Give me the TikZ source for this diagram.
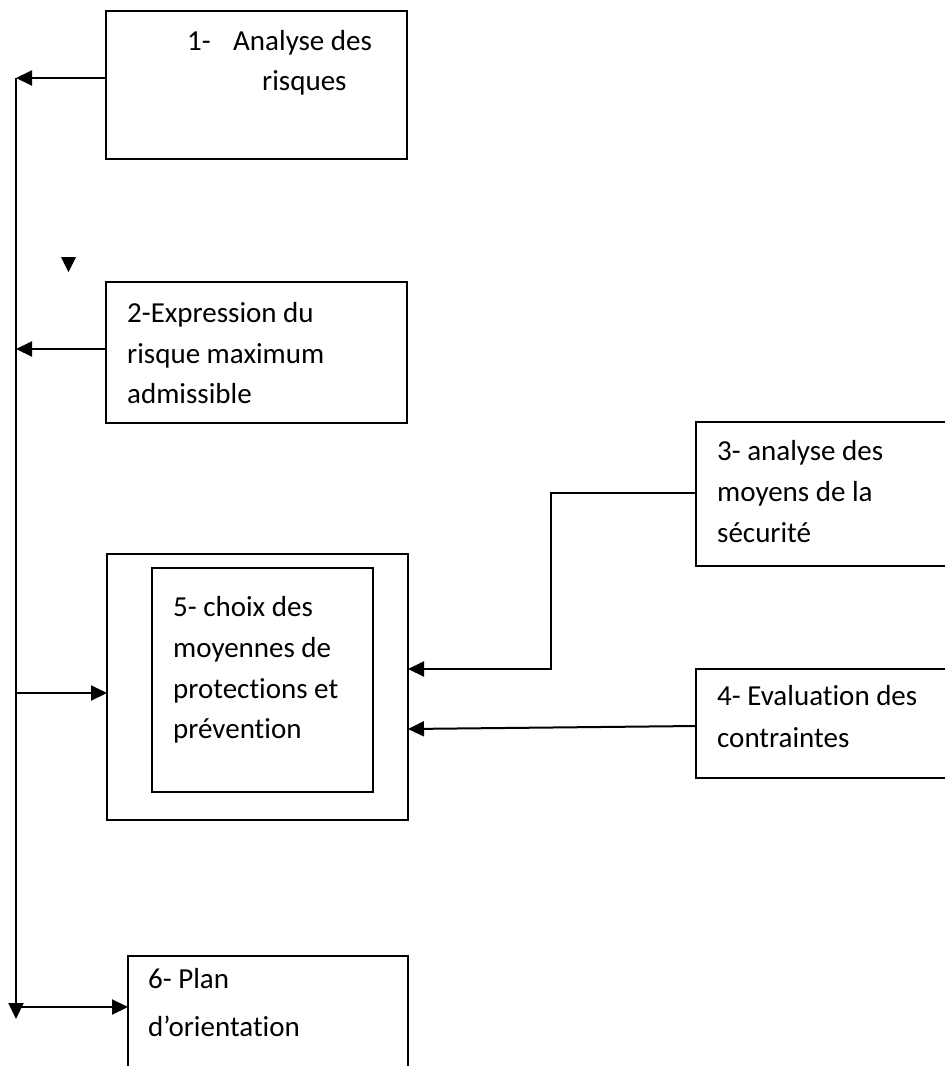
\documentclass[tikz,border=0pt]{standalone}
\usepackage{fontspec}
\setmainfont{Carlito}[Ligatures={NoCommon}]
\usetikzlibrary{arrows.meta}
\begin{document}
\begin{tikzpicture}[x=1pt,y=-1pt,
  box/.style={draw, line width=2pt, rectangle, inner sep=0pt, outer sep=0pt, anchor=north west},
  txt/.style={anchor=base west, inner sep=0pt, font=\fontsize{29}{41}\selectfont},
  arr/.style={line width=2pt, -{Triangle[length=16pt,width=15pt]}}]
\clip (0,0) rectangle (945,1066);
% boxes
\node[box, minimum width=301pt, minimum height=148pt] (b1) at (106,11) {};
\node[box, minimum width=301pt, minimum height=141pt] (b2) at (106,282) {};
\node[box, minimum width=260pt, minimum height=144pt] (b3) at (696,422) {};
\node[box, minimum width=260pt, minimum height=109pt] (b4) at (696,669) {};
\node[box, minimum width=301pt, minimum height=266pt] (b5) at (107,554) {};
\node[box, minimum width=221pt, minimum height=224pt] (b5i) at (152,568) {};
\node[box, minimum width=280pt, minimum height=130pt] (b6) at (128,956) {};
% texts
\node[txt] (t1a) at (187,50) {1-};
\node[txt] (t1b) at (233,50) {Analyse des};
\node[txt] (t1c) at (262,90) {risques};
\node[txt] (t2a) at (127,322) {2-Expression du};
\node[txt] (t2b) at (127,363) {risque maximum};
\node[txt] (t2c) at (127,403) {admissible};
\node[txt] (t3a) at (717,460) {3- analyse des};
\node[txt] (t3b) at (717,501) {moyens de la};
\node[txt] (t3c) at (717,542) {sécurité};
\node[txt] (t4a) at (717,705) {4- Evaluation des};
\node[txt] (t4b) at (717,747) {contraintes};
\node[txt] (t5a) at (173,616) {5- choix des};
\node[txt] (t5b) at (173,657) {moyennes de};
\node[txt] (t5c) at (173,698) {protections et};
\node[txt] (t5d) at (173,738) {prévention};
\node[txt] (t6a) at (148,988) {6- Plan};
\node[txt] (t6b) at (148,1036) {d’orientation};
% connectors
\coordinate (p1) at (16,78);
\coordinate (pb) at (16,1019);
\coordinate (p2) at (16,349);
\coordinate (p5) at (16,693);
\coordinate (p6) at (16,1007);
\coordinate (c3) at (551,493);
\coordinate (c3b) at (551,669);
\coordinate (c4) at (696,726);
\coordinate (c4e) at (408,729);
\draw[arr] (p1) -- (pb);
\draw[arr] (b1.west |- p1) -- (p1);
\draw[arr] (b2.west |- p2) -- (p2);
\draw[arr] (p5) -- (b5.west |- p5);
\draw[arr] (p6) -- (b6.west |- p6);
\draw[arr] (b3.west |- c3) -- (c3) -- (c3b) -- (b5.east |- c3b);
\draw[arr] (b4.west |- c4) -- (b5.east |- c4e);
% stray arrowhead
\fill (61,257) -- (76,257) -- (68.5,272) -- cycle;
\end{tikzpicture}
\end{document}
